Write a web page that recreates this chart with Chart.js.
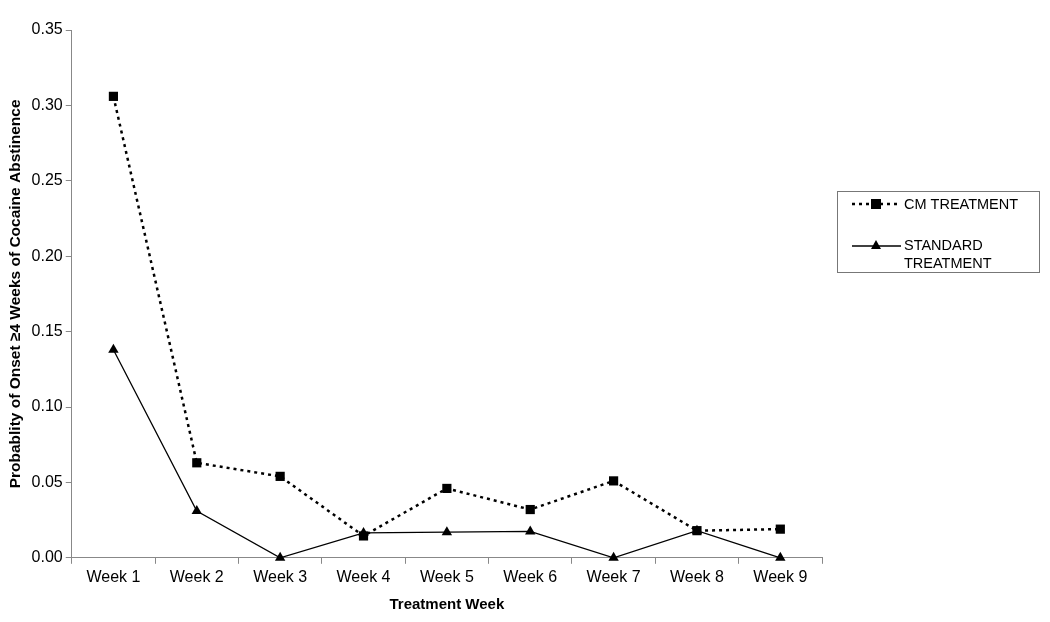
<!DOCTYPE html>
<html><head><meta charset="utf-8">
<script src="https://cdn.jsdelivr.net/npm/chart.js@4/dist/chart.umd.min.js"></script>
<style>html,body{margin:0;padding:0;background:#fff}#wrap{width:1050px;height:622px}</style>
</head><body><div id="wrap"><canvas id="c" width="1050" height="622"></canvas></div>
<script>
const categories = ["Week 1","Week 2","Week 3","Week 4","Week 5","Week 6","Week 7","Week 8","Week 9"];
const cmTreatment = [0.306, 0.063, 0.054, 0.0145, 0.046, 0.032, 0.051, 0.018, 0.019];
const standardTreatment = [0.138, 0.031, 0.0, 0.0165, 0.017, 0.0175, 0.0, 0.018, 0.0];
const seriesNames = ["CM TREATMENT", ["STANDARD", "TREATMENT"]];
const yTitle = "Probablity of Onset \u22654 Weeks of Cocaine Abstinence";
const xTitle = "Treatment Week";

const FONT = "'Liberation Sans', Arial, sans-serif";

const legendPlugin = {
  id: 'customLegend',
  afterDraw(chart) {
    const ctx = chart.ctx;
    ctx.save();
    ctx.strokeStyle = '#777';
    ctx.lineWidth = 1;
    ctx.strokeRect(837.5, 191.5, 202, 81);
    // CM entry
    ctx.strokeStyle = '#000';
    ctx.lineWidth = 2.5;
    ctx.setLineDash([3, 4]);
    ctx.beginPath(); ctx.moveTo(852, 204); ctx.lineTo(901, 204); ctx.stroke();
    ctx.setLineDash([]);
    ctx.fillStyle = '#000';
    ctx.fillRect(871, 199, 10, 10);
    // Standard entry
    ctx.lineWidth = 1.3;
    ctx.beginPath(); ctx.moveTo(852, 246); ctx.lineTo(901, 246); ctx.stroke();
    ctx.beginPath(); ctx.moveTo(876, 240); ctx.lineTo(881, 249); ctx.lineTo(871, 249); ctx.closePath(); ctx.fill();
    ctx.font = '14.5px ' + FONT;
    ctx.textBaseline = 'middle';
    ctx.textAlign = 'left';
    ctx.fillText(seriesNames[0], 904, 205);
    ctx.fillText(seriesNames[1][0], 904, 246);
    ctx.fillText(seriesNames[1][1], 904, 264);
    ctx.restore();
  }
};

new Chart(document.getElementById('c'), {
  type: 'line',
  data: {
    labels: categories,
    datasets: [
      {
        label: "CM TREATMENT",
        data: cmTreatment,
        borderColor: '#000',
        backgroundColor: '#000',
        borderWidth: 2.5,
        borderDash: [3, 4],
        pointStyle: 'rect',
        pointRadius: 6.5,
        pointBorderWidth: 0,
        tension: 0,
        clip: false
      },
      {
        label: "STANDARD TREATMENT",
        data: standardTreatment,
        borderColor: '#000',
        backgroundColor: '#000',
        borderWidth: 1.3,
        pointStyle: 'triangle',
        pointRadius: 6,
        pointBorderWidth: 0,
        tension: 0,
        clip: false
      }
    ]
  },
  options: {
    responsive: false,
    animation: false,
    devicePixelRatio: 1,
    layout: { padding: { top: 30, right: 228, bottom: 4, left: 2 } },
    plugins: { legend: { display: false }, tooltip: { enabled: false } },
    scales: {
      x: {
        offset: true,
        grid: { display: true, drawOnChartArea: false, offset: true, color: '#888', tickLength: 6, tickColor: '#888' },
        border: { display: true, color: '#888', width: 1 },
        ticks: { color: '#000', font: { family: FONT, size: 16 }, padding: 4, maxRotation: 0 },
        title: { display: true, text: xTitle, color: '#000', font: { family: FONT, size: 15, weight: 'bold' }, padding: { top: 5 } }
      },
      y: {
        min: 0, max: 0.35,
        grid: { display: true, drawOnChartArea: false, color: '#888', tickLength: 6, tickColor: '#888' },
        border: { display: true, color: '#888', width: 1 },
        ticks: { stepSize: 0.05, color: '#000', font: { family: FONT, size: 16 }, padding: 3,
                 callback: v => Number(v).toFixed(2) },
        title: { display: true, text: yTitle, color: '#000', font: { family: FONT, size: 15.5, weight: 'bold' }, padding: { bottom: 4 } }
      }
    }
  },
  plugins: [legendPlugin]
});
</script></body></html>
